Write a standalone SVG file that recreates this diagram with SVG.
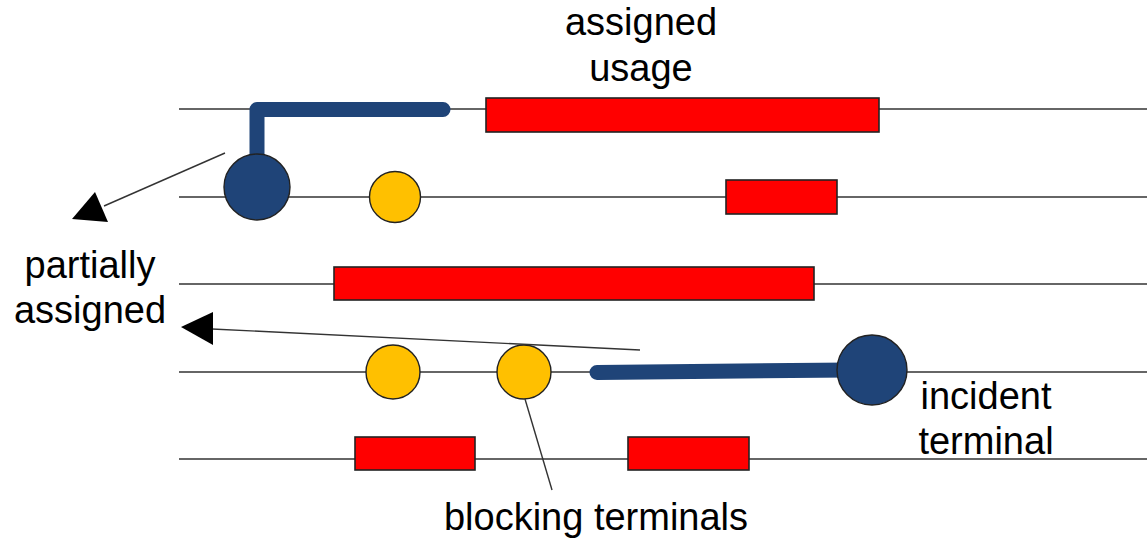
<svg xmlns="http://www.w3.org/2000/svg" width="1147" height="545" viewBox="0 0 1147 545">
<style>
.track{stroke:#333;stroke-width:1.6;fill:none}
.usage{fill:#ff0000;stroke:#222;stroke-width:1.6}
.block{fill:#ffc000;stroke:#222;stroke-width:1.4}
.term{fill:#1f4478;stroke:#222;stroke-width:1.4}
.wire{fill:none;stroke:#1f4478;stroke-width:15;stroke-linecap:round;stroke-linejoin:round}
.lbl{font-family:"Liberation Sans",Arial,sans-serif;font-size:38px;fill:#000}
.ptr{stroke:#333;stroke-width:1.4;fill:none}
</style>
<defs>
<marker id="ah" markerUnits="userSpaceOnUse" markerWidth="40" markerHeight="40" viewBox="0 0 36 36" refX="0" refY="18" orient="auto">
<polygon points="0,18 36,0 36,36" fill="#000"/>
</marker>
</defs>
<g id="tracks">
<line class="track" x1="179" y1="109" x2="1147" y2="109"/>
<line class="track" x1="179" y1="197" x2="1147" y2="197"/>
<line class="track" x1="179" y1="284" x2="1147" y2="284"/>
<line class="track" x1="179" y1="372" x2="1147" y2="372"/>
<line class="track" x1="179" y1="459" x2="1147" y2="459"/>
</g>
<g id="usages">
<rect class="usage" x="486" y="98" width="393" height="34"/>
<rect class="usage" x="726" y="180" width="111" height="34"/>
<rect class="usage" x="334" y="267" width="480" height="33"/>
<rect class="usage" x="355" y="437" width="120" height="33"/>
<rect class="usage" x="628" y="437" width="121" height="33"/>
</g>
<g id="partial-wire">
<path class="wire" d="M257,160 V109.5 H443"/>
<circle class="term" cx="257" cy="187" r="33"/>
</g>
<g id="incident-wire">
<path class="wire" d="M597,372.5 L850,370"/>
<circle class="term" cx="872" cy="370" r="35"/>
</g>
<g id="blocking">
<circle class="block" cx="395" cy="197" r="25.5"/>
<circle class="block" cx="393" cy="372" r="27"/>
<circle class="block" cx="524" cy="372" r="27"/>
</g>
<g id="connectors">
<line class="ptr" x1="225" y1="153" x2="104" y2="206"/>
<polygon points="72,219 95,192 108,222" fill="#000"/>
<line class="ptr" x1="640" y1="350" x2="212" y2="329"/>
<polygon points="181,327 213,312 213,345" fill="#000"/>
<line class="ptr" x1="525" y1="399" x2="552" y2="490"/>
</g>
<g id="labels">
<text class="lbl" x="641" y="35" text-anchor="middle">assigned</text>
<text class="lbl" x="641" y="81" text-anchor="middle">usage</text>
<text class="lbl" x="90" y="278" text-anchor="middle">partially</text>
<text class="lbl" x="90" y="323" text-anchor="middle">assigned</text>
<text class="lbl" x="986" y="409" text-anchor="middle">incident</text>
<text class="lbl" x="986" y="454" text-anchor="middle">terminal</text>
<text class="lbl" x="596" y="530" text-anchor="middle">blocking terminals</text>
</g>
</svg>
